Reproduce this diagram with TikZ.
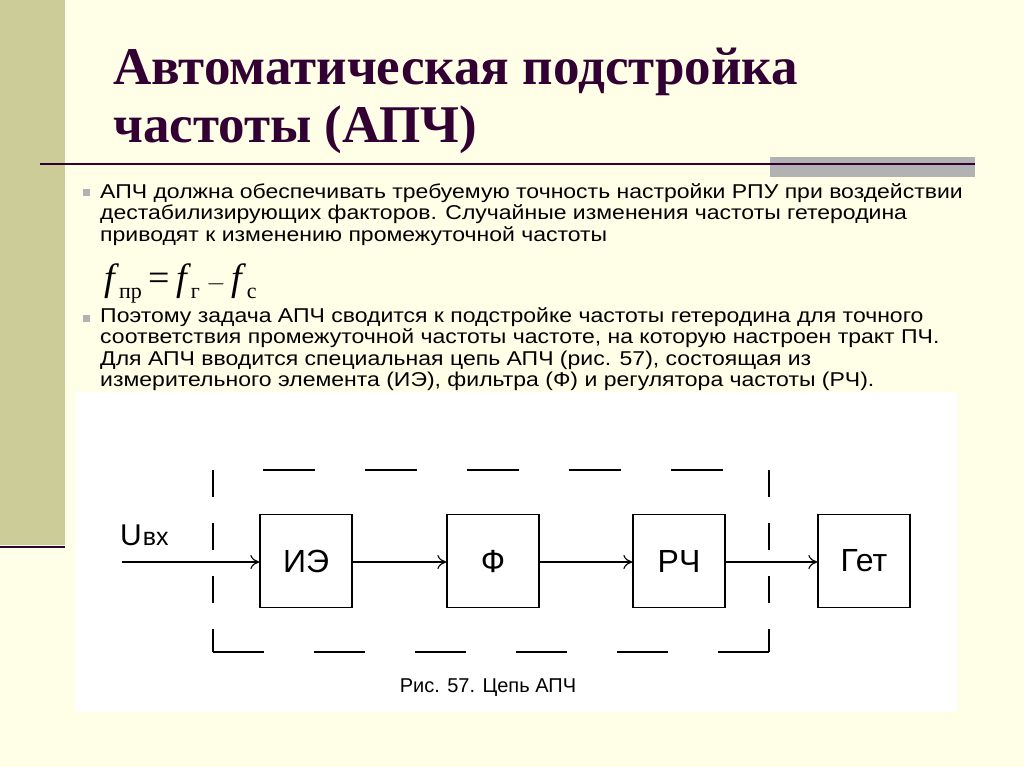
\documentclass[tikz,border=0pt]{standalone}
\usepackage{fontspec}
\setmainfont{Liberation Serif}
\setsansfont{Liberation Sans}
\usetikzlibrary{arrows.meta}
\definecolor{bg}{HTML}{FFFFE8}
\definecolor{band}{HTML}{CCCC99}
\definecolor{ttl}{HTML}{330033}
\newcommand{\mysub}[1]{\raisebox{-8pt}{\fontsize{22}{22}\selectfont #1}}
\tikzset{
 blk/.style={draw,line width=1.3pt,minimum width=92pt,minimum height=93pt,font=\sffamily\fontsize{32}{32}\selectfont},
 body/.style={anchor=north west,align=left,font=\sffamily\fontsize{20}{21.5}\selectfont,inner sep=0,xscale=1.15,transform shape},
 arr/.style={line width=1.1pt,-{To[length=9pt,width=14pt]}},
 bul/.style={fill=gray!60,minimum size=7pt,inner sep=0},
 ttlf/.style={anchor=west,text=ttl,font=\bfseries\fontsize{53}{53}\selectfont,inner sep=0}
}
\begin{document}
\begin{tikzpicture}[x=1pt,y=-1pt]
\fill[bg] (0,0) rectangle (1024,767);
\useasboundingbox (0,0) rectangle (1024,767);
\fill[band] (0,0) rectangle (65,545);
\draw[ttl,line width=2.5pt] (0,547) -- (65,547);
\fill[gray!60] (770,157) rectangle (975,177);
\draw[ttl,line width=2pt] (40,164) -- (975,164);
\node[ttlf] (t1) at (113,72) {Автоматическая подстройка};
\node[ttlf] (t2) at (113,130) {частоты (АПЧ)};
\node[bul] (b1) at (86,193) {};
\node[body] (p1) at (100,183) {АПЧ должна обеспечивать требуемую точность настройки РПУ при воздействии\\дестабилизирующих факторов. Случайные изменения частоты гетеродина\\приводят к изменению промежуточной частоты};
\node[anchor=west,font=\fontsize{38}{38}\selectfont,inner sep=0] (f) at (104,283) {\textit{f}\mysub{пр}\,=\,\textit{f}\mysub{г}\,$-$\,\textit{f}\mysub{с}};
\node[bul] (b2) at (86,318) {};
\node[body] (p2) at (100,307) {Поэтому задача АПЧ сводится к подстройке частоты гетеродина для точного\\соответствия промежуточной частоты частоте, на которую настроен тракт ПЧ.\\Для АПЧ вводится специальная цепь АПЧ (рис. 57), состоящая из\\измерительного элемента (ИЭ), фильтра (Ф) и регулятора частоты (РЧ).};
\fill[white] (75,392) rectangle (957,712);
\draw[line width=1.3pt,dash pattern=on 52pt off 50pt,dash phase=52pt] (213,470) -- (769,470);
\draw[line width=1.3pt,dash pattern=on 51pt off 50pt] (213,652) -- (769,652);
\draw[line width=1.3pt,dash pattern=on 27pt off 26pt] (213,470) -- (213,652);
\draw[line width=1.3pt,dash pattern=on 27pt off 26pt] (769,470) -- (769,652);
\node[blk] (ie) at (306,561) {ИЭ};
\node[blk] (ph) at (493,561) {Ф};
\node[blk] (rc) at (679,561) {РЧ};
\node[blk] (get) at (864,561) {Гет};
\coordinate (in) at (122,562);
\node[anchor=west,font=\sffamily\fontsize{30}{30}\selectfont,inner sep=0] (u) at (120,535) {U\kern1pt{\fontsize{25}{25}\selectfont вх}};
\draw[arr] (in) -- (ie.west|-in);
\draw[arr] (ie.east|-in) -- (ph.west|-in);
\draw[arr] (ph.east|-in) -- (rc.west|-in);
\draw[arr] (rc.east|-in) -- (get.west|-in);
\node[font=\sffamily\fontsize{20}{20}\selectfont] (cap) at (488,688) {Рис. 57. Цепь АПЧ};
\end{tikzpicture}
\end{document}
